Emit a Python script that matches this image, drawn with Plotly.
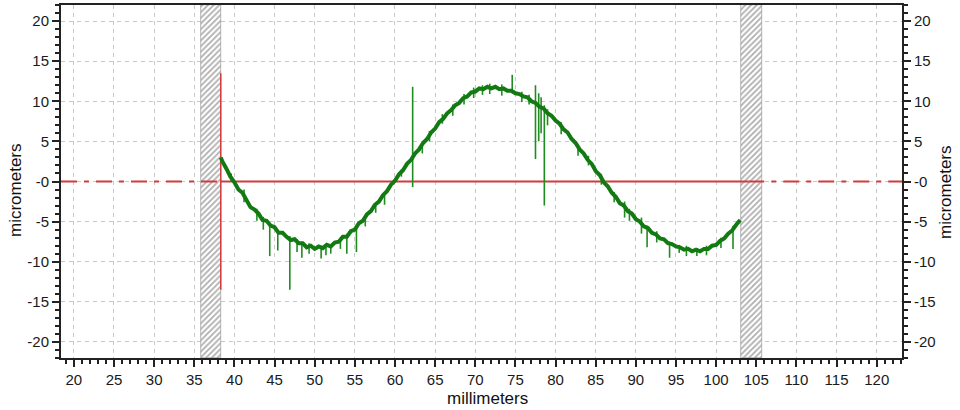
import plotly.graph_objects as go

# ---------------- data ----------------
profile_x = [38.3, 38.5, 39.0, 39.5, 40.0, 40.5, 41.0, 41.5, 42.0, 42.5, 43.0, 43.5, 44.0, 44.5, 45.0, 45.5,
             46.0, 46.5, 47.0, 47.5, 48.0, 48.5, 49.0, 49.5, 50.0, 50.5, 51.0, 51.5, 52.0, 52.5, 53.0, 53.5,
             54.0, 54.5, 55.0, 55.5, 56.0, 56.5, 57.0, 57.5, 58.0, 58.5, 59.0, 59.5, 60.0, 60.5, 61.0, 61.5,
             62.0, 62.5, 63.0, 63.5, 64.0, 64.5, 65.0, 65.5, 66.0, 66.5, 67.0, 67.5, 68.0, 68.5, 69.0, 69.5,
             70.0, 70.5, 71.0, 71.5, 72.0, 72.5, 73.0, 73.5, 74.0, 74.5, 75.0, 75.5, 76.0, 76.5, 77.0, 77.5,
             78.0, 78.5, 79.0, 79.5, 80.0, 80.5, 81.0, 81.5, 82.0, 82.5, 83.0, 83.5, 84.0, 84.5, 85.0, 85.5,
             86.0, 86.5, 87.0, 87.5, 88.0, 88.5, 89.0, 89.5, 90.0, 90.5, 91.0, 91.5, 92.0, 92.5, 93.0, 93.5,
             94.0, 94.5, 95.0, 95.5, 96.0, 96.5, 97.0, 97.5, 98.0, 98.5, 99.0, 99.5, 100.0, 100.5, 101.0,
             101.5, 102.0, 102.5, 103.0]
profile_um = [3.0, 2.5, 1.6, 0.6, -0.1, -1.0, -1.4, -2.2, -3.2, -3.5, -4.0, -4.8, -4.9, -5.5, -5.7, -6.4,
              -6.4, -6.9, -7.3, -7.2, -7.7, -7.7, -8.2, -8.0, -8.4, -8.1, -8.3, -7.9, -8.1, -7.6, -7.5, -6.9,
              -6.9, -6.2, -6.0, -5.2, -4.9, -4.1, -3.7, -2.9, -2.5, -1.7, -1.2, -0.4, 0.1, 0.9, 1.4, 2.2,
              2.7, 3.5, 4.0, 4.8, 5.3, 6.1, 6.6, 7.4, 7.8, 8.5, 8.9, 9.5, 9.8, 10.4, 10.6, 11.1,
              11.2, 11.6, 11.5, 11.8, 11.6, 11.8, 11.5, 11.6, 11.3, 11.3, 11.0, 10.9, 10.6, 10.5, 10.0, 9.8,
              9.3, 9.1, 8.5, 8.2, 7.6, 7.2, 6.5, 6.1, 5.3, 4.8, 4.0, 3.5, 2.7, 2.2, 1.3, 0.8,
              -0.1, -0.6, -1.4, -1.9, -2.7, -3.0, -3.7, -4.0, -4.7, -5.0, -5.6, -5.8, -6.4, -6.6, -7.1, -7.2,
              -7.7, -7.8, -8.1, -8.2, -8.5, -8.4, -8.7, -8.5, -8.7, -8.4, -8.4, -8.0, -7.9, -7.4, -7.1,
              -6.5, -6.1, -5.4, -4.8]

# spikes / noise excursions: position, upper end, lower end
spike_x = [39.6, 41.2, 42.8, 43.6, 44.4, 45.4, 46.9, 47.8, 48.4, 49.3, 50.8, 51.4, 52.0, 53.2, 54.0, 55.2,
           56.3, 57.6, 58.7, 60.8, 62.2, 63.4, 64.3, 65.9, 67.2, 68.6, 69.8, 70.9, 71.8, 73.3, 74.6, 75.8,
           76.7, 77.5, 77.9, 78.2, 78.6, 79.0, 80.7, 82.8, 84.1, 85.7, 87.3, 88.6, 89.2, 90.7, 91.4, 92.6,
           94.2, 95.4, 96.3, 97.6, 98.8, 100.6, 102.1]
spike_top = [1.0, -1.0, -3.4, -4.4, -5.5, -6.0, -6.8, -7.2, -7.5, -7.7, -8.0, -7.8, -7.8, -7.0, -6.5, -5.5,
             -4.2, -2.8, -1.6, 1.5, 11.8, 4.6, 6.3, 8.4, 9.6, 10.9, 11.7, 12.0, 12.2, 12.1, 13.3, 11.2,
             10.8, 12.0, 11.0, 10.5, 9.5, 9.0, 7.4, 4.6, 3.2, 0.9, -1.3, -2.5, -3.4, -4.5, -5.5, -6.2,
             -7.5, -7.9, -8.0, -8.3, -8.0, -7.0, -5.5]
spike_bottom = [0.0, -2.6, -4.9, -6.0, -9.3, -8.6, -13.5, -8.8, -9.5, -9.0, -9.6, -9.2, -9.0, -8.4, -9.0, -8.8,
                -5.6, -3.9, -2.9, 0.6, -0.7, 3.5, 5.0, 7.2, 8.2, 9.6, 10.4, 10.8, 10.9, 10.7, 11.0, 9.9,
                9.6, 2.8, 5.0, 6.0, -3.0, 7.0, 5.9, 3.2, 2.0, -0.4, -2.6, -4.5, -4.9, -6.5, -8.2, -7.6,
                -9.5, -8.9, -9.3, -9.3, -9.2, -8.3, -8.4]

evaluation_start = 38.3
evaluation_end = 104.0
marker_half_height = 13.5
excluded_center = [37.05, 104.4]
excluded_width = [2.5, 2.6]

x_ticks = [20, 25, 30, 35, 40, 45, 50, 55, 60, 65, 70, 75, 80, 85, 90, 95, 100, 105, 110, 115, 120]
y_ticks = [20, 15, 10, 5, 0, -5, -10, -15, -20]
y_tick_text = ["20", "15", "10", "5", "-0", "-5", "-10", "-15", "-20"]

X_RANGE = [18.4, 123.15]
Y_RANGE = [-22, 22]

GREEN = "#137a13"
RED = "#d03c3c"
FONT = "Liberation Sans, Arial, sans-serif"

fig = go.Figure()

# excluded (hatched) zones
fig.add_trace(go.Bar(
    x=excluded_center, y=[Y_RANGE[1] - Y_RANGE[0]] * 2, base=[Y_RANGE[0]] * 2, width=excluded_width,
    marker=dict(color="white", line=dict(color="#8a8a8a", width=0.6),
                pattern=dict(shape="/", fgcolor="#5e5e5e", bgcolor="white", size=4, solidity=0.45)),
    hoverinfo="skip", showlegend=False))

# red reference lines
fig.add_trace(go.Scatter(x=[X_RANGE[0], evaluation_start, None, evaluation_end, X_RANGE[1]],
                         y=[0, 0, None, 0, 0], mode="lines",
                         line=dict(color=RED, width=2, dash="16px,7px,5px,7px"),
                         hoverinfo="skip", showlegend=False))
fig.add_trace(go.Scatter(x=[evaluation_start, evaluation_end], y=[0, 0], mode="lines",
                         line=dict(color=RED, width=2), hoverinfo="skip", showlegend=False))
fig.add_trace(go.Scatter(x=[evaluation_start, evaluation_start], y=[marker_half_height, -marker_half_height],
                         mode="lines", line=dict(color=RED, width=1.5), hoverinfo="skip", showlegend=False))

# spikes
sx, sy = [], []
for xv, t, b in zip(spike_x, spike_top, spike_bottom):
    sx += [xv, xv, None]
    sy += [t, b, None]
fig.add_trace(go.Scatter(x=sx, y=sy, mode="lines", line=dict(color="#1f8c1f", width=1.6),
                         hoverinfo="skip", showlegend=False))

# profile
fig.add_trace(go.Scatter(x=profile_x, y=profile_um, mode="lines",
                         line=dict(color=GREEN, width=4), showlegend=False))

# dummy for right axis
fig.add_trace(go.Scatter(x=[X_RANGE[0]], y=[0], yaxis="y2", mode="markers",
                         marker=dict(opacity=0), hoverinfo="skip", showlegend=False))

axis_font = dict(family=FONT, size=15, color="#1a1a1a")
title_font = dict(family=FONT, size=17, color="#111")

common = dict(ticks="outside", ticklen=7, tickwidth=1.5, tickcolor="#222", showline=True,
              linecolor="#222", linewidth=2, zeroline=False, tickfont=axis_font, automargin=False)

fig.update_layout(
    width=960, height=410,
    margin=dict(l=61, r=58, t=5, b=52),
    paper_bgcolor="white", plot_bgcolor="white",
    barmode="overlay", bargap=0,
    font=dict(family=FONT),
    xaxis=dict(range=X_RANGE, tickvals=x_ticks, mirror=True,
               showgrid=True, gridcolor="#c8c8c8", griddash="4px,4px", gridwidth=1,
               minor=dict(dtick=1, ticks="outside", ticklen=4, tickcolor="#222", showgrid=False),
               **common),
    yaxis=dict(range=Y_RANGE, tickvals=y_ticks, ticktext=y_tick_text,
               showgrid=True, gridcolor="#c8c8c8", griddash="4px,4px", gridwidth=1,
               minor=dict(dtick=1, ticks="outside", ticklen=4, tickcolor="#222", showgrid=False),
               **common),
    yaxis2=dict(range=Y_RANGE, overlaying="y", side="right", tickvals=y_ticks, ticktext=y_tick_text,
                showgrid=False,
                minor=dict(dtick=1, ticks="outside", ticklen=4, tickcolor="#222"),
                **common),
    annotations=[
        dict(text="millimeters", xref="paper", yref="paper", x=(487 - 61) / 841, y=(358 - 398) / 353,
             xanchor="center", yanchor="middle", showarrow=False, font=title_font),
        dict(text="micrometers", xref="paper", yref="paper", x=(15 - 61) / 841, y=(358 - 190) / 353,
             xanchor="center", yanchor="middle", showarrow=False, font=title_font, textangle=-90),
        dict(text="micrometers", xref="paper", yref="paper", x=(945 - 61) / 841, y=(358 - 192) / 353,
             xanchor="center", yanchor="middle", showarrow=False, font=title_font, textangle=-90),
    ],
)

fig.write_html("out.html", config={"displayModeBar": False},
               post_script="document.body.style.margin='0';")
